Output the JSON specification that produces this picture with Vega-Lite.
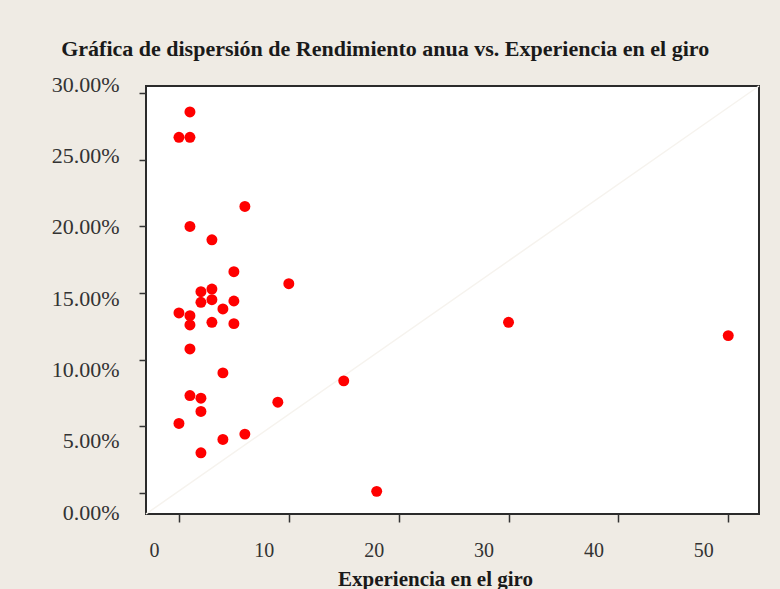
{
  "$schema": "https://vega.github.io/schema/vega-lite/v6.json",
  "width": 613,
  "height": 428,
  "autosize": "none",
  "padding": {"left": 146, "top": 86, "right": 21, "bottom": 75},
  "background": "#efebe4",
  "config": {
    "view": {"stroke": "#2b2b2b", "strokeWidth": 2, "fill": "white"},
    "font": "Liberation Serif"
  },
  "title": {
    "text": "Gráfica de dispersión de Rendimiento anua vs. Experiencia en el giro",
    "anchor": "start",
    "dx": 10,
    "offset": -5,
    "baseline": "alphabetic",
    "fontSize": 22,
    "fontWeight": "bold",
    "font": "Liberation Serif",
    "color": "#1a1a1a"
  },
  "datasets": {
    "pts": [
      {"exp": 1, "rend": 0.286},
      {"exp": 0, "rend": 0.267},
      {"exp": 1, "rend": 0.267},
      {"exp": 6, "rend": 0.215},
      {"exp": 1, "rend": 0.200},
      {"exp": 3, "rend": 0.190},
      {"exp": 5, "rend": 0.166},
      {"exp": 10, "rend": 0.157},
      {"exp": 2, "rend": 0.151},
      {"exp": 3, "rend": 0.153},
      {"exp": 2, "rend": 0.143},
      {"exp": 3, "rend": 0.145},
      {"exp": 5, "rend": 0.144},
      {"exp": 4, "rend": 0.138},
      {"exp": 0, "rend": 0.135},
      {"exp": 1, "rend": 0.133},
      {"exp": 1, "rend": 0.126},
      {"exp": 3, "rend": 0.128},
      {"exp": 5, "rend": 0.127},
      {"exp": 1, "rend": 0.108},
      {"exp": 4, "rend": 0.090},
      {"exp": 1, "rend": 0.073},
      {"exp": 2, "rend": 0.071},
      {"exp": 2, "rend": 0.061},
      {"exp": 9, "rend": 0.068},
      {"exp": 0, "rend": 0.052},
      {"exp": 4, "rend": 0.040},
      {"exp": 6, "rend": 0.044},
      {"exp": 2, "rend": 0.030},
      {"exp": 15, "rend": 0.084},
      {"exp": 18, "rend": 0.001},
      {"exp": 30, "rend": 0.128},
      {"exp": 50, "rend": 0.118}
    ],
    "diag": [
      {"exp": -3.0, "rend": -0.016},
      {"exp": 52.8, "rend": 0.3055}
    ]
  },
  "layer": [
    {
      "layer": [
        {
          "data": {"name": "diag"},
          "mark": {"type": "line", "color": "#f6f3ee", "strokeWidth": 1.5},
          "encoding": {
            "x": {"field": "exp", "type": "quantitative", "scale": {"domain": [-3.0, 52.8], "nice": false, "zero": false}},
            "y": {"field": "rend", "type": "quantitative", "scale": {"domain": [-0.016, 0.3055], "nice": false, "zero": false}}
          }
        },
        {
          "data": {"name": "pts"},
          "mark": {"type": "circle", "color": "#ff0000", "size": 120, "opacity": 1},
          "encoding": {
            "x": {
              "field": "exp", "type": "quantitative",
              "scale": {"domain": [-3.0, 52.8], "nice": false, "zero": false},
              "axis": {
                "values": [0, 10, 20, 30, 40, 50],
                "domain": false, "grid": false,
                "tickSize": 8, "tickColor": "#333", "tickWidth": 1.5,
                "labelOffset": -25, "labelPadding": 18, "labelFlush": false,
                "labelFontSize": 20, "labelColor": "#333", "labelFont": "Liberation Serif",
                "title": "Experiencia  en el giro",
                "titleFontSize": 21, "titleFontWeight": "bold", "titleColor": "#1a1a1a", "titleFont": "Liberation Serif",
                "titleX": 289, "titleY": 71, "titleBaseline": "alphabetic", "titleAlign": "center", "titleAnchor": null
              }
            },
            "y": {
              "field": "rend", "type": "quantitative",
              "scale": {"domain": [-0.016, 0.3055], "nice": false, "zero": false},
              "axis": {
                "orient": "left",
                "values": [0, 0.05, 0.1, 0.15, 0.2, 0.25, 0.3],
                "labels": false, "domain": false, "grid": false,
                "tickSize": 7, "tickColor": "#333", "tickWidth": 1.5,
                "title": null
              }
            }
          }
        }
      ]
    },
    {
      "data": {"name": "pts"},
      "mark": {"type": "circle", "opacity": 0},
      "encoding": {
        "y": {
          "field": "rend", "type": "quantitative",
          "scale": {"domain": [0, 0.3], "nice": false, "zero": false},
          "axis": {
            "orient": "left",
            "values": [0, 0.05, 0.1, 0.15, 0.2, 0.25, 0.3],
            "format": ".2%",
            "ticks": false, "domain": false, "grid": false,
            "labelPadding": 27, "labelOffset": -2, "labelFlush": false,
            "labelFontSize": 22, "labelColor": "#333", "labelFont": "Liberation Serif",
            "title": null
          }
        }
      }
    }
  ],
  "resolve": {"scale": {"y": "independent"}, "axis": {"y": "independent"}}
}
